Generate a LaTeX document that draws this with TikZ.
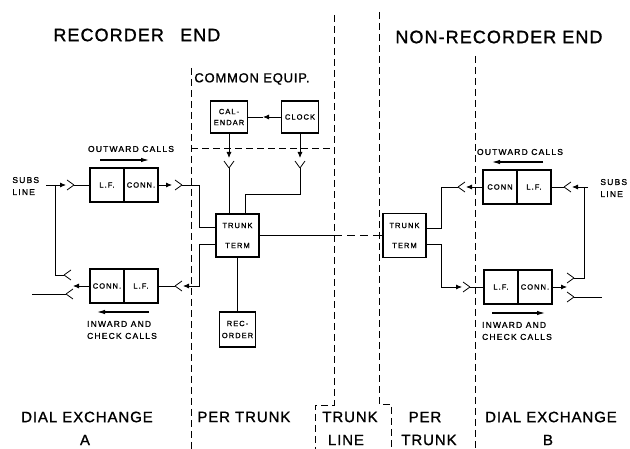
\documentclass[tikz,border=0pt]{standalone}
\usepackage{fontspec}
\setmainfont{Liberation Sans}
\newfontfamily\bigletters[LetterSpace=6,FakeBold=1.2]{Liberation Sans}
\newfontfamily\smallletters[LetterSpace=14,FakeBold=1.2]{Liberation Sans}
\usetikzlibrary{arrows.meta}
\begin{document}
\begin{tikzpicture}[x=1pt,y=-1pt,line width=0.8pt,
  box/.style={draw,line width=1.8pt,inner sep=0pt,align=center,
    font=\smallletters\fontsize{7.5}{11}\selectfont},
  plug/.style={-{Latex[length=6pt,width=5pt]}},
  flow/.style={-{Latex[length=8pt,width=4.5pt]},line width=1.1pt},
  divider/.style={dash pattern=on 7pt off 4pt,line width=0.7pt},
  caption/.style={font=\smallletters\fontsize{8.5}{12}\selectfont,inner sep=0pt},
  heading/.style={font=\bigletters\fontsize{18}{20}\selectfont,inner sep=0pt},
  zone/.style={font=\bigletters\fontsize{15}{20}\selectfont,inner sep=0pt},
  jack/.pic={\draw (0,0) -- (-7,-5) (0,0) -- (-7,5);}]
\useasboundingbox (0,0) rectangle (630,449);

% headings
\node[heading,anchor=west] (recend) at (53,35) {RECORDER\hspace{0.9em}END};
\node[heading,anchor=west] (nonend) at (395,37) {NON-RECORDER END};
\node[anchor=west,inner sep=0pt,font=\bigletters\fontsize{13}{15}\selectfont] (common) at (194,79) {COMMON EQUIP.};

% boundaries
\draw[divider] (191,68) -- (191,449);
\draw[divider] (191,148) -- (334,148);
\draw[divider] (334,15) -- (334,405) -- (315,405) -- (315,449);
\draw[divider] (379,12) -- (379,404) -- (391,404) -- (391,449);
\draw[divider] (475,56) -- (475,449);

% common equipment and recorder end trunk
\node[box,minimum width=37pt,minimum height=32pt,font=\smallletters\fontsize{7.5}{11}\selectfont] (cal) at (229,117) {CAL-\\ENDAR};
\node[box,minimum width=37pt,minimum height=32pt] (clk) at (300,117) {CLOCK};
\node[box,minimum width=43pt,minimum height=43pt,font=\smallletters\fontsize{7.5}{20}\selectfont] (tt1) at (237.5,235.5) {TRUNK\\TERM};
\node[box,minimum width=36pt,minimum height=35pt,font=\smallletters\fontsize{7.5}{12}\selectfont] (rec) at (237.5,329.5) {REC-\\ORDER};

% non-recorder end trunk
\node[box,minimum width=43pt,minimum height=44pt,font=\smallletters\fontsize{7.5}{20}\selectfont] (tt2) at (404.5,235.5) {TRUNK\\TERM};

% exchange A
\node[box,minimum width=34pt,minimum height=34pt] (lf1) at (107,185) {L.F.};
\node[box,minimum width=34pt,minimum height=34pt] (conn1) at (141,185) {CONN.};
\node[box,minimum width=34pt,minimum height=34pt] (conn2) at (107,286) {CONN.};
\node[box,minimum width=34pt,minimum height=34pt] (lf2) at (141,286) {L.F.};

% exchange B
\node[box,minimum width=34pt,minimum height=34pt] (conn3) at (500,187) {CONN};
\node[box,minimum width=34pt,minimum height=34pt] (lf3) at (534,187) {L.F.};
\node[box,minimum width=34pt,minimum height=34pt] (lf4) at (501,287) {L.F.};
\node[box,minimum width=34pt,minimum height=34pt] (conn4) at (535,287) {CONN.};

% call labels
\node[caption] (outa) at (131,149) {OUTWARD CALLS};
\node[caption,align=left] (ina) at (122,330) {INWARD AND\\CHECK CALLS};
\node[caption] (outb) at (520,152) {OUTWARD CALLS};
\node[caption,align=left] (inb) at (517,331) {INWARD AND\\CHECK CALLS};
\node[caption,align=left,anchor=west] (subsa) at (12,186) {SUBS\\LINE};
\node[caption,align=left,anchor=west] (subsb) at (600,188) {SUBS\\LINE};
\coordinate (oa1) at (100,160); \coordinate (oa2) at (149,160);
\coordinate (ia1) at (149,312); \coordinate (ia2) at (97,312);
\coordinate (ob1) at (543,162); \coordinate (ob2) at (492,162);
\coordinate (ib1) at (492,313); \coordinate (ib2) at (545,313);
\draw[flow] (oa1) -- (oa2);
\draw[flow] (ia1) -- (ia2);
\draw[flow] (ob1) -- (ob2);
\draw[flow] (ib1) -- (ib2);

% clock to calendar and trunk
\coordinate (pk) at (263,117);
\draw[plug] (clk.west) -- (pk);
\draw (pk) -- (cal.east);
\coordinate (pc1) at (229,158); \coordinate (jc1) at (229,168);
\coordinate (pc2) at (300,158); \coordinate (jc2) at (300,168);
\coordinate (bend1) at (245,194);
\draw[plug] (cal.south) -- (pc1);
\pic[rotate=-90] at (jc1) {jack};
\draw (jc1) -- (jc1 |- tt1.north);
\draw[plug] (clk.south) -- (pc2);
\pic[rotate=-90] at (jc2) {jack};
\draw (jc2) |- (bend1) -- (bend1 |- tt1.north);
\draw (tt1.south) -- (rec.north);

% trunk line
\coordinate (tla) at (334,235.5); \coordinate (tlb) at (379,235.5);
\draw (tt1.east) -- (tla);
\draw[dashed,dash pattern=on 8pt off 5pt] (tla) -- (tlb);
\draw (tlb) -- (tt2.west);

% exchange A wiring
\coordinate (subsla) at (46,185); \coordinate (pa) at (66,185); \coordinate (ja) at (74,185);
\coordinate (tapa) at (55,185); \coordinate (jb) at (64,275);
\coordinate (pb) at (73,286); \coordinate (jcx) at (66,294); \coordinate (exa) at (32,294);
\draw[plug] (subsla) -- (pa);
\pic at (ja) {jack};
\draw (ja) -- (lf1.west);
\draw (tapa) |- (jb);
\pic[rotate=180] at (jb) {jack};
\draw[plug] (conn2.west) -- (pb);
\pic[rotate=180] at (jcx) {jack};
\draw (jcx) -- (exa);
\coordinate (pd) at (172,185); \coordinate (jd) at (182,185); \coordinate (bendd) at (199,227);
\draw[plug] (conn1.east) -- (pd);
\pic at (jd) {jack};
\draw (jd) -| (bendd) -- (bendd -| tt1.west);
\coordinate (bende) at (199,244); \coordinate (pe) at (183,286); \coordinate (je) at (175,286);
\draw[plug] (bende -| tt1.west) -- (bende) |- (pe);
\pic[rotate=180] at (je) {jack};
\draw (je) -- (lf2.east);

% exchange B wiring
\coordinate (subslb) at (588,187); \coordinate (pf) at (572,187); \coordinate (jf) at (564,187);
\coordinate (tapb) at (584,187); \coordinate (jg) at (574,278);
\coordinate (ph) at (567,287); \coordinate (jh) at (574,297); \coordinate (exb) at (602,297);
\draw[plug] (subslb) -- (pf);
\pic[rotate=180] at (jf) {jack};
\draw (jf) -- (lf3.east);
\draw (tapb) |- (jg);
\pic at (jg) {jack};
\draw[plug] (conn4.east) -- (ph);
\pic at (jh) {jack};
\draw (jh) -- (exb);
\coordinate (bendi) at (441,228); \coordinate (ji) at (458,187); \coordinate (pi) at (466,187);
\draw (bendi -| tt2.east) -- (bendi) |- (ji);
\pic[rotate=180] at (ji) {jack};
\draw[plug] (conn3.west) -- (pi);
\coordinate (bendj) at (441,244); \coordinate (pj) at (462,287); \coordinate (jj) at (470,287);
\draw[plug] (bendj -| tt2.east) -- (bendj) |- (pj);
\pic at (jj) {jack};
\draw (jj) -- (lf4.west);

% zone labels
\node[zone] (dialxa) at (87,417) {DIAL EXCHANGE};
\node[zone] (exlabela) at (85,440) {A};
\node[zone,anchor=west] (pertra) at (197,417) {PER TRUNK};
\node[zone] (trunkl) at (350,417) {TRUNK};
\node[zone] (linel) at (346,440) {LINE};
\node[zone] (pertrb) at (425,417) {PER};
\node[zone] (pertrc) at (429,440) {TRUNK};
\node[zone] (dialxb) at (551,417) {DIAL EXCHANGE};
\node[zone] (exlabelb) at (548,440) {B};
\end{tikzpicture}
\end{document}
